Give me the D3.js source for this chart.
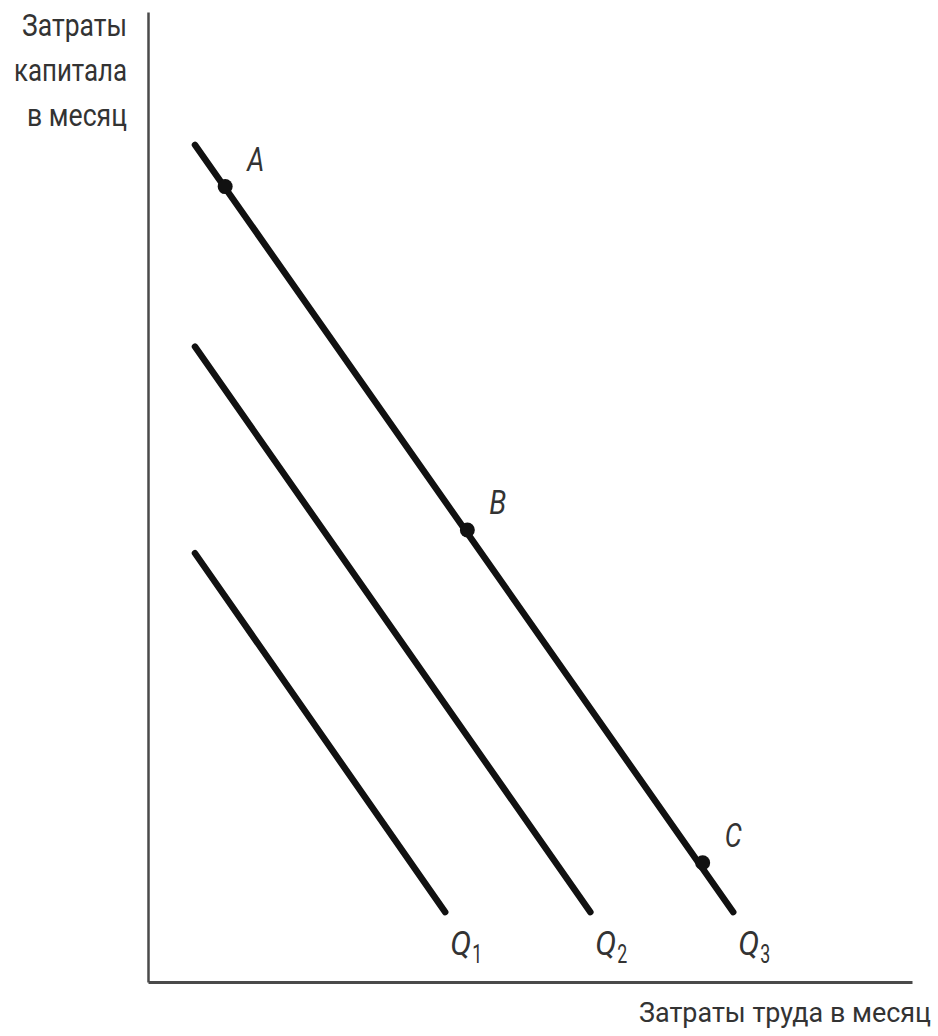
<!DOCTYPE html>
<html>
<head>
<meta charset="utf-8">
<script src="https://cdn.jsdelivr.net/npm/d3@7"></script>
<style>
  html, body { margin: 0; padding: 0; background: #fff; }
  svg { display: block; }
  text { font-family: "Liberation Sans Narrow", Roboto, "Liberation Sans", sans-serif; fill: #333; }
</style>
</head>
<body>
<svg id="chart" width="938" height="1036"></svg>
<script>
// Isoquants: labour on x, capital on y (arbitrary units)
const curveNames = ["Q1", "Q2", "Q3"];
const curveSubs = ["1", "2", "3"];
const curveStartX = [6.15, 6.15, 6.15];
const curveStartY = [44.2, 65.5, 86.3];
const curveEndX = [38.9, 57.9, 76.6];
const curveEndY = [7.2, 7.2, 7.2];

// Marked input combinations on Q3
const pointNames = ["A", "B", "C"];
const pointX = [10.1, 41.8, 72.6];
const pointY = [82.0, 46.6, 12.3];

const yTitle = ["Затраты", "капитала", "в месяц"];
const xTitle = "Затраты труда в месяц";

const svg = d3.select("#chart");
const origin = { x: 148, y: 982 };
const x = d3.scaleLinear().domain([0, 100]).range([origin.x, 912]);
const y = d3.scaleLinear().domain([0, 100]).range([origin.y, 12]);

// Axes: plain lines without ticks
svg.append("g")
  .attr("transform", `translate(0,${origin.y})`)
  .call(d3.axisBottom(x).tickValues([]).tickSizeOuter(0))
  .call(g => g.select(".domain").attr("stroke", "#4a4a4a").attr("stroke-width", 3));
svg.append("g")
  .attr("transform", `translate(${origin.x},0)`)
  .call(d3.axisLeft(y).tickValues([]).tickSizeOuter(0))
  .call(g => g.select(".domain").attr("stroke", "#4a4a4a").attr("stroke-width", 2.5));

// Isoquant lines
const curves = curveNames.map((n, i) => ({
  name: n, sub: curveSubs[i],
  pts: [[curveStartX[i], curveStartY[i]], [curveEndX[i], curveEndY[i]]]
}));
const line = d3.line().x(d => x(d[0])).y(d => y(d[1]));
svg.append("g").selectAll("path").data(curves).join("path")
  .attr("d", d => line(d.pts))
  .attr("fill", "none")
  .attr("stroke", "#111")
  .attr("stroke-width", 6.5)
  .attr("stroke-linecap", "round");

// Curve labels Q with subscripts
const qLab = svg.append("g").selectAll("g").data(curves).join("g")
  .attr("transform", d => `translate(${x(d.pts[1][0]) + 5},${y(d.pts[1][1]) + 43})`);
qLab.append("text")
  .attr("font-size", 34).attr("font-style", "italic")
  .attr("textLength", 21).attr("lengthAdjust", "spacingAndGlyphs")
  .text("Q");
qLab.append("text")
  .attr("x", 22).attr("y", 8)
  .attr("font-size", 26)
  .attr("textLength", 10).attr("lengthAdjust", "spacingAndGlyphs")
  .text(d => d.sub);

// Points on Q3
const points = pointNames.map((n, i) => ({ name: n, x: pointX[i], y: pointY[i] }));
svg.append("g").selectAll("circle").data(points).join("circle")
  .attr("cx", d => x(d.x)).attr("cy", d => y(d.y))
  .attr("r", 7.5).attr("fill", "#111");
svg.append("g").selectAll("text").data(points).join("text")
  .attr("x", d => x(d.x) + 22).attr("y", d => y(d.y) - 16)
  .attr("font-size", 34).attr("font-style", "italic")
  .attr("textLength", 17).attr("lengthAdjust", "spacingAndGlyphs")
  .text(d => d.name);

// Axis titles
const yWidths = [105, 113, 100];
svg.append("g").selectAll("text").data(yTitle).join("text")
  .attr("x", 127).attr("y", (d, i) => 36 + i * 45)
  .attr("text-anchor", "end")
  .attr("font-size", 31)
  .attr("textLength", (d, i) => yWidths[i]).attr("lengthAdjust", "spacingAndGlyphs")
  .text(d => d);

svg.append("text")
  .attr("x", 931).attr("y", 1022)
  .attr("text-anchor", "end")
  .attr("font-size", 27)
  .attr("textLength", 292).attr("lengthAdjust", "spacingAndGlyphs")
  .text(xTitle);
</script>
</body>
</html>
